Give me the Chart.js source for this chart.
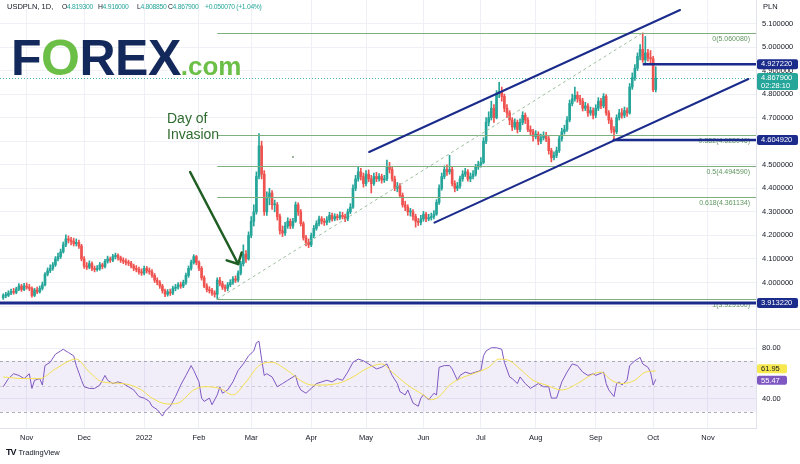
<!DOCTYPE html>
<html><head><meta charset="utf-8"><title>USDPLN 1D</title>
<script src="https://cdn.jsdelivr.net/npm/chart.js@4.4.1/dist/chart.umd.min.js"></script>
<style>
html,body{margin:0;padding:0;background:#fff}
body{width:800px;height:464px;position:relative;overflow:hidden;font-family:"Liberation Sans",Arial,sans-serif;color:#131722}
canvas{position:absolute;left:0}
#priceCanvas{top:0}
#rsiCanvas{top:330px}
#sep{position:absolute;left:0;top:329px;width:800px;height:1px;background:#e0e3eb}
.t{position:absolute;top:2px;font-size:6.8px;line-height:9px;white-space:nowrap;color:#131722;letter-spacing:-0.3px}
.t0{font-size:7.5px;letter-spacing:0}
.v{color:#26a69a}
#pln{position:absolute;left:763px;top:2px;font-size:7.5px;line-height:9px;color:#131722}
#logo{position:absolute;left:11px;top:33px;font-weight:bold;font-size:50px;line-height:50px;color:#13295b;letter-spacing:-0.5px;white-space:nowrap}
#logo .o{color:#6cbf46}
#logo .com{font-size:26px;color:#6cbf46;letter-spacing:0}
#doi{position:absolute;left:167px;top:110px;font-size:14px;line-height:16px;color:#2e6b2e}
#tv{position:absolute;left:6px;top:447px;font-size:7.5px;color:#131722;white-space:nowrap}
#tv b{font-size:9px;font-weight:900;letter-spacing:-1px;margin-right:3px}
</style></head>
<body>
<canvas id="priceCanvas" width="800" height="329"></canvas>
<div id="sep"></div>
<canvas id="rsiCanvas" width="800" height="118"></canvas>
<div class="t t0" style="left:7px">USDPLN, 1D,</div>
<div class="t" id="hO" style="left:62px"></div>
<div class="t" id="hH" style="left:98px"></div>
<div class="t" id="hL" style="left:137px"></div>
<div class="t" id="hC" style="left:168px"></div>
<div class="t v" id="hChg" style="left:205px"></div>
<div id="pln">PLN</div>
<div id="logo">F<span class="o">O</span>REX<span class="com">.com</span></div>
<div id="doi">Day of<br>Invasion</div>
<div id="tv"><b>TV</b>TradingView</div>
<script>
// ---------------- DATA ----------------
const closes = [
 3.945,3.945,3.955,3.962,3.958,3.972,3.985,3.970,3.985,3.980,
 3.975,3.945,3.968,3.960,3.975,3.990,4.035,4.050,4.060,4.075,
 4.100,4.110,4.130,4.160,4.185,4.180,4.175,4.165,4.170,4.155,
 4.100,4.070,4.065,4.080,4.060,4.055,4.060,4.075,4.068,4.090,
 4.100,4.095,4.110,4.115,4.105,4.095,4.090,4.085,4.082,4.070,
 4.060,4.055,4.045,4.040,4.060,4.050,4.045,4.030,4.010,4.000,
 3.985,3.965,3.950,3.960,3.955,3.975,3.980,3.990,3.985,4.000,
 4.030,4.060,4.085,4.110,4.085,4.060,4.020,3.985,3.970,3.965,
 3.955,3.950,4.010,3.995,3.980,3.975,3.990,4.000,4.015,4.010,
 4.040,4.080,4.120,4.100,4.200,4.260,4.300,4.450,4.580,4.460,
 4.300,4.360,4.380,4.330,4.330,4.280,4.220,4.210,4.240,4.260,
 4.240,4.260,4.330,4.300,4.250,4.190,4.170,4.160,4.200,4.230,
 4.250,4.270,4.260,4.255,4.265,4.285,4.270,4.280,4.275,4.285,
 4.280,4.270,4.300,4.320,4.400,4.440,4.470,4.450,4.420,4.460,
 4.440,4.420,4.450,4.440,4.450,4.435,4.440,4.490,4.480,4.440,
 4.400,4.410,4.370,4.330,4.320,4.300,4.300,4.280,4.260,4.255,
 4.270,4.290,4.270,4.275,4.280,4.290,4.340,4.400,4.450,4.480,
 4.470,4.480,4.420,4.400,4.410,4.440,4.460,4.470,4.440,4.450,
 4.460,4.490,4.500,4.510,4.600,4.680,4.700,4.740,4.700,4.800,
 4.810,4.790,4.740,4.720,4.690,4.660,4.680,4.650,4.680,4.710,
 4.690,4.650,4.640,4.620,4.630,4.600,4.615,4.625,4.610,4.560,
 4.530,4.540,4.560,4.610,4.640,4.650,4.690,4.760,4.780,4.795,
 4.780,4.770,4.740,4.750,4.720,4.730,4.710,4.740,4.770,4.750,
 4.790,4.720,4.690,4.650,4.640,4.700,4.720,4.710,4.730,4.720,
 4.830,4.870,4.910,4.960,4.990,4.945,4.975,4.955,4.950,4.81783,
 4.8679];
const opens = [
 3.935,3.945,3.945,3.955,3.962,3.958,3.972,3.985,3.970,3.985,
 3.980,3.975,3.945,3.968,3.960,3.975,3.990,4.035,4.050,4.060,
 4.075,4.100,4.110,4.130,4.160,4.185,4.180,4.175,4.165,4.170,
 4.155,4.100,4.070,4.065,4.080,4.060,4.055,4.060,4.075,4.068,
 4.090,4.100,4.095,4.110,4.115,4.105,4.095,4.090,4.085,4.082,
 4.070,4.060,4.055,4.045,4.040,4.060,4.050,4.045,4.030,4.010,
 4.000,3.985,3.965,3.950,3.960,3.955,3.975,3.980,3.990,3.985,
 4.000,4.030,4.060,4.085,4.110,4.085,4.060,4.020,3.985,3.970,
 3.965,3.955,3.950,4.010,3.995,3.980,3.975,3.990,4.000,4.015,
 4.010,4.040,4.080,4.120,4.100,4.200,4.260,4.300,4.450,4.580,
 4.460,4.300,4.360,4.380,4.330,4.330,4.280,4.220,4.210,4.240,
 4.260,4.240,4.260,4.330,4.300,4.250,4.190,4.170,4.160,4.200,
 4.230,4.250,4.270,4.260,4.255,4.265,4.285,4.270,4.280,4.275,
 4.285,4.280,4.270,4.300,4.320,4.400,4.440,4.470,4.450,4.420,
 4.460,4.440,4.420,4.450,4.440,4.450,4.435,4.440,4.490,4.480,
 4.440,4.400,4.410,4.370,4.330,4.320,4.300,4.300,4.280,4.260,
 4.255,4.270,4.290,4.270,4.275,4.280,4.290,4.340,4.400,4.450,
 4.480,4.470,4.480,4.420,4.400,4.410,4.440,4.460,4.470,4.440,
 4.450,4.460,4.490,4.500,4.510,4.600,4.680,4.700,4.740,4.700,
 4.800,4.810,4.790,4.740,4.720,4.690,4.660,4.680,4.650,4.680,
 4.710,4.690,4.650,4.640,4.620,4.630,4.600,4.615,4.625,4.610,
 4.560,4.530,4.540,4.560,4.610,4.640,4.650,4.690,4.760,4.780,
 4.795,4.780,4.770,4.740,4.750,4.720,4.730,4.710,4.740,4.770,
 4.750,4.790,4.720,4.690,4.650,4.640,4.700,4.720,4.710,4.730,
 4.720,4.830,4.870,4.910,4.960,4.990,4.945,4.975,4.955,4.950,
 4.8193];
const highs = [
 3.952,3.958,3.965,3.972,3.975,3.980,3.995,3.992,3.996,3.998,
 3.992,3.982,3.975,3.980,3.985,4.002,4.042,4.062,4.075,4.085,
 4.110,4.125,4.142,4.172,4.202,4.198,4.192,4.188,4.185,4.180,
 4.162,4.110,4.085,4.092,4.088,4.070,4.072,4.085,4.082,4.098,
 4.112,4.108,4.120,4.125,4.122,4.112,4.105,4.100,4.095,4.090,
 4.078,4.072,4.065,4.058,4.070,4.068,4.062,4.055,4.038,4.020,
 4.008,3.992,3.972,3.970,3.972,3.985,3.992,4.000,4.002,4.010,
 4.040,4.070,4.095,4.118,4.115,4.092,4.068,4.028,3.995,3.982,
 3.975,3.965,4.020,4.022,4.005,3.990,4.000,4.012,4.025,4.028,
 4.050,4.090,4.160,4.135,4.215,4.280,4.330,4.470,4.632,4.600,
 4.475,4.385,4.400,4.390,4.350,4.340,4.290,4.240,4.255,4.275,
 4.270,4.272,4.342,4.338,4.310,4.258,4.200,4.185,4.210,4.242,
 4.262,4.282,4.280,4.272,4.280,4.298,4.295,4.292,4.290,4.300,
 4.298,4.290,4.312,4.335,4.415,4.455,4.490,4.485,4.465,4.475,
 4.478,4.455,4.465,4.468,4.462,4.460,4.455,4.520,4.510,4.490,
 4.452,4.425,4.420,4.380,4.345,4.330,4.315,4.310,4.290,4.272,
 4.285,4.302,4.298,4.290,4.295,4.305,4.352,4.415,4.465,4.495,
 4.500,4.540,4.490,4.432,4.425,4.452,4.475,4.485,4.480,4.465,
 4.475,4.502,4.515,4.530,4.615,4.700,4.725,4.770,4.755,4.815,
 4.850,4.830,4.800,4.755,4.730,4.700,4.695,4.690,4.695,4.725,
 4.720,4.700,4.665,4.650,4.645,4.640,4.630,4.640,4.638,4.620,
 4.570,4.555,4.575,4.622,4.655,4.668,4.705,4.775,4.800,4.830,
 4.810,4.795,4.782,4.765,4.760,4.745,4.742,4.755,4.785,4.782,
 4.802,4.798,4.730,4.700,4.662,4.712,4.735,4.738,4.745,4.742,
 4.845,4.890,4.925,4.975,5.010,5.060,5.045,4.990,4.985,4.960,
 4.916];
const lows = [
 3.928,3.935,3.940,3.948,3.950,3.952,3.965,3.962,3.965,3.972,
 3.965,3.938,3.940,3.952,3.955,3.968,3.985,4.028,4.042,4.052,
 4.068,4.092,4.102,4.125,4.152,4.168,4.160,4.155,4.155,4.145,
 4.092,4.060,4.055,4.058,4.050,4.045,4.048,4.052,4.058,4.062,
 4.082,4.085,4.088,4.100,4.095,4.085,4.080,4.075,4.072,4.062,
 4.050,4.045,4.035,4.030,4.032,4.040,4.035,4.022,4.000,3.990,
 3.975,3.955,3.940,3.942,3.945,3.948,3.965,3.972,3.975,3.978,
 3.992,4.022,4.052,4.078,4.075,4.050,4.010,3.978,3.960,3.955,
 3.945,3.938,3.929,3.985,3.970,3.962,3.965,3.982,3.992,4.000,
 4.002,4.032,4.070,4.085,4.095,4.190,4.240,4.290,4.440,4.440,
 4.285,4.285,4.330,4.310,4.300,4.265,4.205,4.195,4.200,4.230,
 4.228,4.230,4.255,4.285,4.240,4.180,4.155,4.148,4.152,4.190,
 4.222,4.240,4.248,4.242,4.245,4.255,4.260,4.262,4.265,4.268,
 4.270,4.258,4.262,4.292,4.315,4.390,4.430,4.435,4.405,4.410,
 4.428,4.380,4.412,4.428,4.430,4.422,4.425,4.432,4.465,4.430,
 4.390,4.385,4.360,4.320,4.305,4.285,4.282,4.265,4.235,4.242,
 4.245,4.260,4.258,4.262,4.265,4.270,4.285,4.332,4.392,4.440,
 4.455,4.460,4.410,4.385,4.390,4.400,4.430,4.450,4.430,4.428,
 4.440,4.452,4.480,4.490,4.505,4.590,4.665,4.690,4.680,4.695,
 4.785,4.770,4.725,4.700,4.670,4.645,4.650,4.635,4.640,4.670,
 4.675,4.640,4.625,4.600,4.610,4.585,4.590,4.605,4.598,4.545,
 4.512,4.520,4.530,4.552,4.600,4.630,4.642,4.682,4.750,4.770,
 4.765,4.755,4.728,4.730,4.705,4.710,4.695,4.700,4.730,4.738,
 4.742,4.710,4.675,4.635,4.605,4.632,4.690,4.698,4.700,4.705,
 4.715,4.820,4.858,4.900,4.945,4.935,4.930,4.940,4.930,4.810,
 4.80885];

// trading-day index of the first session of each month, and its axis label
const monthStartIdx = [9,31,54,75,95,118,139,161,183,204,227,249,270];
const monthLabels   = ['Nov','Dec','2022','Feb','Mar','Apr','May','Jun','Jul','Aug','Sep','Oct','Nov'];
const priceTicks = [3.9,4.0,4.1,4.2,4.3,4.4,4.5,4.6,4.7,4.8,4.9,5.0,5.1];
const rsiTicks = [40,80];

// RSI(14) line and its moving average, read at trading-day indices
const rsiIdx = [0,2,4,6,8,10,11,12,14,15,16,18,20,22,23,25,27,28,30,31,33,35,37,39,40,42,44,46,48,50,52,54,56,57,59,61,62,64,66,68,70,72,73,75,76,77,79,80,82,83,84,86,88,90,92,94,96,97,98,99,100,101,103,105,107,109,112,113,114,116,118,120,122,124,126,128,130,132,134,136,138,140,141,143,145,147,149,151,152,154,155,157,159,160,161,163,165,166,167,169,171,172,174,175,177,179,181,183,184,185,187,189,191,192,194,195,197,198,200,202,204,205,207,209,210,212,214,216,218,220,222,224,226,227,230,231,232,234,235,236,237,239,240,242,244,245,247,248,249,250];
const rsiVal = [49.6,56.0,59.8,58.5,56.0,59.8,48.3,54.7,56.0,50.9,66.2,68.8,75.1,77.7,79.0,76.4,73.9,66.2,54.7,49.6,48.3,48.3,50.9,58.5,54.7,52.1,53.4,52.1,49.6,47.1,41.9,40.7,38.1,34.3,31.7,26.6,30.4,34.3,41.9,50.9,58.5,66.2,62.4,53.4,40.7,38.1,40.7,35.5,43.2,49.6,44.5,47.1,53.4,62.4,67.5,73.9,77.7,84.1,85.3,71.3,58.5,59.8,57.3,49.6,52.1,54.7,58.5,50.9,47.1,44.5,48.3,52.1,53.4,54.7,53.4,56.0,54.7,61.1,68.8,71.3,70.0,67.5,66.2,63.6,64.9,67.5,58.5,52.1,45.8,43.2,47.1,36.8,34.3,40.7,43.2,39.4,44.5,43.2,64.9,66.2,66.2,63.6,54.7,58.5,61.1,59.8,61.1,62.4,73.9,77.7,80.2,80.2,79.0,68.8,57.3,56.0,52.1,57.3,52.1,48.3,50.9,52.1,49.6,49.6,40.7,40.7,53.4,61.1,67.5,66.2,61.1,58.5,59.8,58.5,61.1,52.1,47.1,41.9,52.1,53.4,50.9,54.7,66.2,70.0,72.6,67.5,64.9,61.1,50.9,55.47];
const maIdx = [0,8,14,20,28,33,38,46,53,57,63,67,73,77,83,88,93,98,103,108,116,120,128,134,139,145,149,155,161,164,167,171,175,180,186,190,194,198,203,208,214,220,225,229,233,237,242,246,250];
const maVal = [57.3,56.0,56.0,63.6,71.3,61.1,53.4,52.1,47.1,40.7,36.1,36.8,47.1,49.6,48.3,43.2,53.4,66.2,68.8,63.6,52.1,50.9,52.1,57.3,63.6,67.5,61.1,50.9,43.2,39.4,41.9,50.9,56.0,59.8,64.9,71.3,70.0,63.6,54.7,50.9,47.1,52.1,58.5,61.1,54.7,52.1,54.7,61.1,61.95];

// drawings (in index / price space)
const fibHigh = 5.06008, fibLow = 3.9291, fibStartIdx = 82;
const fibRatios = [0, 0.382, 0.5, 0.618, 1];
const channelUpper = [[140.2, 4.554], [259.3, 5.157]];
const channelLower = [[165.2, 4.254], [285.5, 4.864]];
const trendDiag = [[82, 3.9291], [245, 5.06008]];
const hLevels = [{p:3.91322, from:-2, w:3}, {p:4.92722, from:245, w:2.5}, {p:4.60492, from:233.5, w:2.5}];
const arrowFrom = [71.6, 4.4692], arrowTo = [90.0, 4.0786];
const countdown = '02:28:10';

// ---------------- STYLE ----------------
const FONT = '"Liberation Sans", Arial, Helvetica, sans-serif';
const UP = '#26a69a', DN = '#ef5350', GRID = '#eef0f5', NAVY = '#1a2b8c';
const FIB_LINE = '#7fae7f', FIB_TXT = '#5e965e';
const X_MIN = -1.23, X_MAX = 288.4;
const P_MIN = 3.8025, P_MAX = 5.1996;
const R_MIN = 17.25, R_MAX = 94.12;
const last = closes.length - 1;

// header
const f6 = v => v.toFixed(6);
document.getElementById('hO').innerHTML = 'O<span class="v">' + f6(opens[last]) + '</span>';
document.getElementById('hH').innerHTML = 'H<span class="v">' + f6(highs[last]) + '</span>';
document.getElementById('hL').innerHTML = 'L<span class="v">' + f6(lows[last]) + '</span>';
document.getElementById('hC').innerHTML = 'C<span class="v">' + f6(closes[last]) + '</span>';
const chg = closes[last] - closes[last-1];
document.getElementById('hChg').textContent = (chg>=0?'+':'') + chg.toFixed(6) + ' (' + (chg>=0?'+':'') + (chg/closes[last-1]*100).toFixed(2) + '%)';

function monthTickBuilder(s){ s.ticks = monthStartIdx.filter(v => v>=s.min && v<=s.max).map(v => ({value:v})); }
function noPad(s){ s.paddingTop = 0; s.paddingBottom = 0; s.paddingLeft = 0; s.paddingRight = 0; }
function seg(ctx,x1,y1,x2,y2){ ctx.beginPath(); ctx.moveTo(x1,y1); ctx.lineTo(x2,y2); ctx.stroke(); }
function tag(ctx, x, top, w, h, bg, lines, fg){
  ctx.fillStyle = bg; ctx.beginPath();
  if (ctx.roundRect) ctx.roundRect(x, top, w, h, 2); else ctx.rect(x, top, w, h);
  ctx.fill();
  ctx.fillStyle = fg; ctx.font = '7.5px ' + FONT; ctx.textAlign = 'left'; ctx.textBaseline = 'middle';
  lines.forEach((t,k) => ctx.fillText(t, x+4, top + 5 + k*8));
}

const priceAnnot = {
  id:'priceAnnot',
  afterDatasetsDraw(chart){
    const {ctx, chartArea:a, scales:{x, y}} = chart;
    const X = v => x.getPixelForValue(v), Y = v => y.getPixelForValue(v);
    ctx.save();
    ctx.beginPath(); ctx.rect(a.left, a.top, a.right-a.left, a.bottom-a.top); ctx.clip();
    // last price dotted line
    ctx.strokeStyle = 'rgba(38,166,154,0.85)'; ctx.lineWidth = 1; ctx.setLineDash([1,2]);
    const yl = Math.round(Y(closes[last])) + 0.5; seg(ctx, a.left, yl, a.right, yl);
    ctx.setLineDash([]);
    // fibonacci retracement
    fibRatios.forEach(r => {
      const p = fibHigh - r*(fibHigh - fibLow);
      const yy = Math.round(Y(p)) + 0.5;
      ctx.strokeStyle = FIB_LINE; ctx.lineWidth = 1; seg(ctx, X(fibStartIdx), yy, a.right, yy);
      ctx.fillStyle = FIB_TXT; ctx.font = '7px ' + FONT; ctx.textAlign = 'right'; ctx.textBaseline = 'top';
      ctx.fillText(r + '(' + p.toFixed(6) + ')', a.right - 6, yy + 2);
    });
    // fib trend (dashed)
    ctx.strokeStyle = '#9dbf9d'; ctx.lineWidth = 1; ctx.setLineDash([3,3]);
    seg(ctx, X(trendDiag[0][0]), Y(trendDiag[0][1]), X(trendDiag[1][0]), Y(trendDiag[1][1]));
    ctx.setLineDash([]);
    // small dot
    ctx.fillStyle = '#7d9c7d'; ctx.beginPath(); ctx.arc(X(111), Y(4.533), 1, 0, Math.PI*2); ctx.fill();
    // channel
    ctx.strokeStyle = NAVY; ctx.lineWidth = 2; ctx.lineCap = 'round';
    [channelUpper, channelLower].forEach(c => seg(ctx, X(c[0][0]), Y(c[0][1]), X(c[1][0]), Y(c[1][1])));
    // horizontal levels
    ctx.lineCap = 'butt';
    hLevels.forEach(h => { ctx.lineWidth = h.w; const yy = Y(h.p); seg(ctx, Math.max(a.left, X(h.from)), yy, a.right, yy); });
    // arrow
    const sx = X(arrowFrom[0]), sy = Y(arrowFrom[1]), tx = X(arrowTo[0]), ty = Y(arrowTo[1]);
    const ang = Math.atan2(ty-sy, tx-sx);
    ctx.strokeStyle = '#1e5e22'; ctx.lineWidth = 2.5; ctx.lineCap = 'round';
    seg(ctx, sx, sy, tx, ty);
    [-0.78, 0.78].forEach(d => seg(ctx, tx, ty, tx - 12*Math.cos(ang+d), ty - 12*Math.sin(ang+d)));
    ctx.restore();
    // axis tags
    ctx.save();
    const ax = a.right + 1;
    hLevels.forEach(h => tag(ctx, ax, Y(h.p) - 5, 41, 10, NAVY, [f6(h.p)], '#fff'));
    tag(ctx, ax, Y(closes[last]) - 5, 41, 17, UP, [f6(closes[last]), countdown], '#fff');
    ctx.restore();
  }
};

const candleColors = closes.map((c,i) => c >= opens[i] ? UP : DN);

new Chart(document.getElementById('priceCanvas'), {
  type: 'bar',
  data: { datasets: [
    { label:'wick', data: closes.map((c,i) => ({x:i, y:[lows[i], highs[i]]})), backgroundColor: candleColors,
      barThickness: 1, grouped: false, order: 2, borderWidth: 0 },
    { label:'body', data: closes.map((c,i) => ({x:i, y:[opens[i], c]})), backgroundColor: candleColors,
      barThickness: 2, minBarLength: 1, grouped: false, order: 1, borderWidth: 0 }
  ]},
  options: {
    responsive: false, animation: false, events: [],
    layout: { padding: 0 },
    plugins: { legend: {display:false}, tooltip: {enabled:false} },
    scales: {
      x: { type:'linear', min:X_MIN, max:X_MAX, offset:false,
           grid:{color:GRID, drawTicks:false, offset:false}, border:{display:false},
           ticks:{display:false}, afterBuildTicks: monthTickBuilder, afterFit(s){ s.height = 0; noPad(s); } },
      y: { position:'right', min:P_MIN, max:P_MAX,
           grid:{color:GRID, drawTicks:false}, border:{color:'#e0e3eb'},
           ticks:{color:'#131722', font:{size:7.5, family:FONT}, padding:6, autoSkip:false, callback: v => v.toFixed(6)},
           afterBuildTicks(s){ s.ticks = priceTicks.map(v => ({value:v})); },
           afterFit(s){ s.width = 44; noPad(s); } }
    }
  },
  plugins: [priceAnnot]
});

const rsiPlugin = {
  id:'rsiBands',
  beforeDatasetsDraw(chart){
    const {ctx, chartArea:a, scales:{y}} = chart;
    const yu = y.getPixelForValue(70), yl = y.getPixelForValue(30), ym = y.getPixelForValue(50);
    ctx.save();
    ctx.fillStyle = 'rgba(126,87,194,0.10)'; ctx.fillRect(a.left, yu, a.right-a.left, yl-yu);
    ctx.lineWidth = 1; ctx.setLineDash([3,3]);
    ctx.strokeStyle = 'rgba(120,123,134,0.6)';
    seg(ctx, a.left, Math.round(yu)+0.5, a.right, Math.round(yu)+0.5);
    seg(ctx, a.left, Math.round(yl)+0.5, a.right, Math.round(yl)+0.5);
    ctx.strokeStyle = 'rgba(120,123,134,0.3)';
    seg(ctx, a.left, Math.round(ym)+0.5, a.right, Math.round(ym)+0.5);
    ctx.restore();
  },
  afterDraw(chart){
    const {ctx, chartArea:a, scales:{y}} = chart;
    const rv = rsiVal[rsiVal.length-1], mv = maVal[maVal.length-1];
    const yr = y.getPixelForValue(rv);
    const ym = Math.min(y.getPixelForValue(mv), yr - 10.5);
    ctx.save();
    tag(ctx, a.right+1, ym - 4.5, 30, 9, '#f7e84e', [mv.toFixed(2)], '#131722');
    tag(ctx, a.right+1, yr - 3.5, 30, 9, '#7e57c2', [rv.toFixed(2)], '#fff');
    ctx.restore();
  }
};

new Chart(document.getElementById('rsiCanvas'), {
  type: 'line',
  data: { datasets: [
    { label:'RSI MA', data: maIdx.map((v,k) => ({x:v, y:maVal[k]})), borderColor:'#f3df4f', borderWidth:1,
      pointRadius:0, cubicInterpolationMode:'monotone', fill:false },
    { label:'RSI', data: rsiIdx.map((v,k) => ({x:v, y:rsiVal[k]})), borderColor:'#7e57c2', borderWidth:1,
      pointRadius:0, tension:0, fill:false }
  ]},
  options: {
    responsive:false, animation:false, events:[],
    layout:{padding:0},
    plugins:{legend:{display:false}, tooltip:{enabled:false}},
    scales:{
      x:{ type:'linear', min:X_MIN, max:X_MAX, offset:false,
          grid:{color:GRID, drawTicks:false}, border:{color:'#e0e3eb'},
          ticks:{color:'#131722', font:{size:7.5, family:FONT}, padding:5, autoSkip:false, maxRotation:0,
                 callback: v => monthLabels[monthStartIdx.indexOf(v)] },
          afterBuildTicks: monthTickBuilder, afterFit(s){ s.height = 20; noPad(s); } },
      y:{ position:'right', min:R_MIN, max:R_MAX,
          grid:{color:GRID, drawTicks:false}, border:{color:'#e0e3eb'},
          ticks:{color:'#131722', font:{size:7.5, family:FONT}, padding:6, callback: v => v.toFixed(2)},
          afterBuildTicks(s){ s.ticks = rsiTicks.map(v => ({value:v})); },
          afterFit(s){ s.width = 44; noPad(s); } }
    }
  },
  plugins:[rsiPlugin]
});
</script>
</body></html>
